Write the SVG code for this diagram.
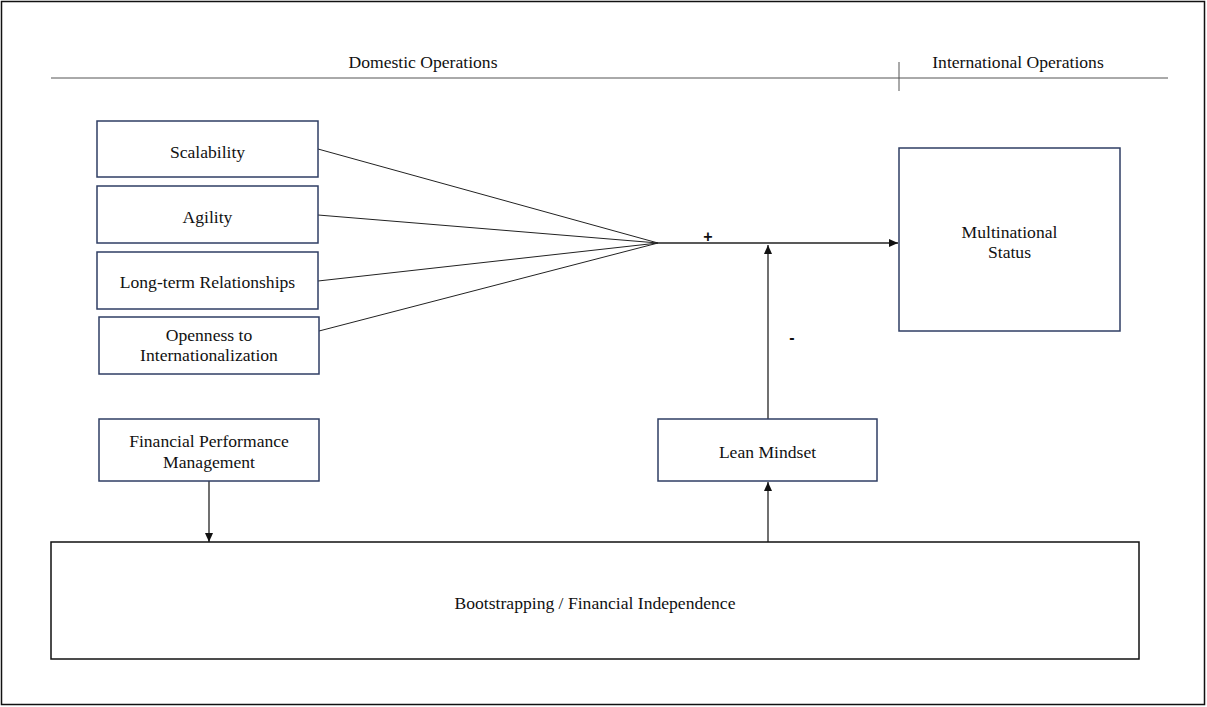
<svg xmlns="http://www.w3.org/2000/svg" width="1207" height="707" viewBox="0 0 1207 707">
<style>
text{font-family:"Liberation Serif","Times New Roman",serif;font-size:17.6px;fill:#111;text-anchor:middle}
.box{fill:#fff;stroke:#2f3e64;stroke-width:1.5}
.big{fill:#fff;stroke:#111;stroke-width:1.5}
.ln{stroke:#222;stroke-width:1;fill:none}
.ar{stroke:#111;stroke-width:1.2;fill:none}
.sign{font-family:"Liberation Sans",Arial,sans-serif;font-size:16px;font-weight:bold}
</style>
<defs>
<marker id="ah" markerWidth="10" markerHeight="10" refX="9" refY="5" orient="auto" markerUnits="userSpaceOnUse">
<path d="M0,1 L9,5 L0,9 Z" fill="#111"/>
</marker>
</defs>
<rect x="1.5" y="1.5" width="1203" height="703" fill="#fff" stroke="#111" stroke-width="1.5"/>
<g id="header">
<line x1="51" y1="78" x2="1168" y2="78" stroke="#555" stroke-width="1"/>
<line x1="899" y1="62" x2="899" y2="91" stroke="#555" stroke-width="1"/>
<text x="423" y="68">Domestic Operations</text>
<text x="1018" y="68">International Operations</text>
</g>
<g id="connectors">
<line class="ln" x1="318" y1="149" x2="658" y2="243"/>
<line class="ln" x1="318" y1="215" x2="658" y2="243"/>
<line class="ln" x1="318" y1="281" x2="658" y2="243"/>
<line class="ln" x1="319" y1="331" x2="658" y2="243"/>
<line x1="658" y1="243" x2="898" y2="243" stroke="#222" stroke-width="1.5" marker-end="url(#ah)"/>
<line class="ar" x1="768" y1="419" x2="768" y2="245" marker-end="url(#ah)"/>
<line class="ar" x1="209" y1="481" x2="209" y2="542" marker-end="url(#ah)"/>
<line class="ar" x1="768" y1="542" x2="768" y2="482" marker-end="url(#ah)"/>
<text class="sign" x="708" y="242">+</text>
<text class="sign" x="792" y="343">-</text>
</g>
<g id="scalability"><rect class="box" x="97" y="121" width="221" height="56"/><text x="207.5" y="158">Scalability</text></g>
<g id="agility"><rect class="box" x="97" y="186" width="221" height="57"/><text x="207.5" y="223">Agility</text></g>
<g id="longterm"><rect class="box" x="97" y="252" width="221" height="57"/><text x="207.5" y="288">Long-term Relationships</text></g>
<g id="openness"><rect class="box" x="99" y="317" width="220" height="57"/><text x="209" y="341">Openness to</text><text x="209" y="361">Internationalization</text></g>
<g id="fpm"><rect class="box" x="99" y="419" width="220" height="62"/><text x="209" y="447">Financial Performance</text><text x="209" y="468">Management</text></g>
<g id="lean"><rect class="box" x="658" y="419" width="219" height="62"/><text x="767.5" y="458">Lean Mindset</text></g>
<g id="multinational"><rect class="box" x="899" y="148" width="221" height="183"/><text x="1009.5" y="238">Multinational</text><text x="1009.5" y="258">Status</text></g>
<g id="bootstrapping"><rect class="big" x="51" y="542" width="1088" height="117"/><text x="595" y="609">Bootstrapping / Financial Independence</text></g>
</svg>
